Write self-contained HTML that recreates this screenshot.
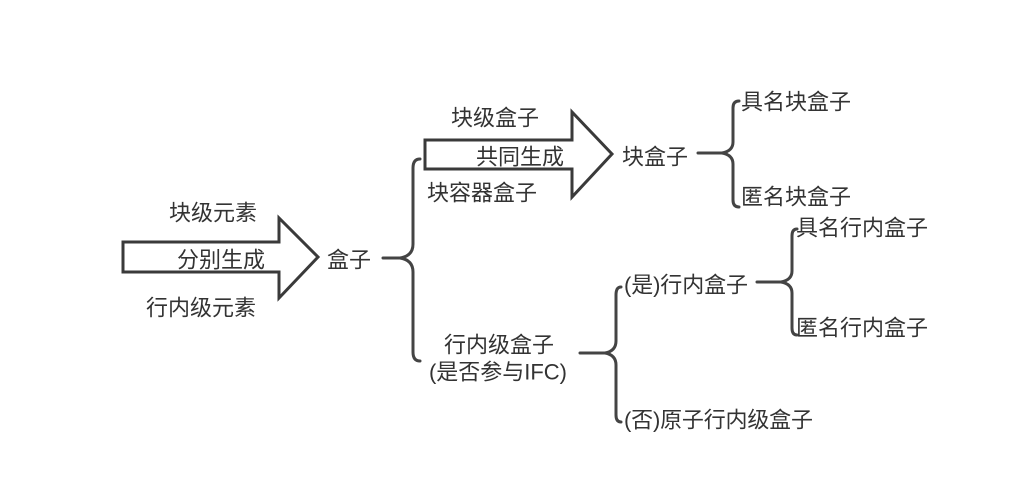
<!DOCTYPE html>
<html><head><meta charset="utf-8"><style>
html,body{margin:0;padding:0;background:#fff;}
svg{display:block;}
text{font-family:"Liberation Sans","Noto Sans CJK SC",sans-serif;font-size:22px;fill:#333;dominant-baseline:central;}
</style></head><body>
<svg width="1024" height="494" viewBox="0 0 1024 494" xmlns="http://www.w3.org/2000/svg">
<rect width="1024" height="494" fill="#fff"/>
<g fill="none" stroke="#3a3a3a" stroke-width="3" stroke-linejoin="miter">
<polygon points="123,242 279,242 279,218 318,257 279,298 279,272 123,272"/>
<polygon points="425,140 572,140 572,112 612,154 572,197 572,169 425,169"/>
</g>
<g fill="none" stroke="#444" stroke-width="3" stroke-linecap="round">
<path d="M383 258 L400 258 Q413 256 413 244 L413 168 Q413 159 420 159"/>
<path d="M400 258 Q413 260 413 272 L413 352 Q413 361 420 361"/>
<path d="M698 153 L722 153 Q733 151 733 142 L733 108 Q733 101 739 101"/>
<path d="M722 153 Q733 155 733 164 L733 200 Q733 207 739 207"/>
<path d="M580 353 L605 353 Q616 351 616 341 L616 295 Q616 287 621 287"/>
<path d="M605 353 Q616 355 616 365 L616 415 Q616 422 621 422"/>
<path d="M757 282 L781 282 Q792 280 792 271 L792 236 Q792 229 797 229"/>
<path d="M781 282 Q792 284 792 293 L792 328 Q792 335 797 335"/>
</g>
<text x="169" y="213">块级元素</text>
<text x="177" y="260">分别生成</text>
<text x="146" y="308">行内级元素</text>
<text x="327" y="260">盒子</text>
<text x="451" y="118">块级盒子</text>
<text x="476" y="157">共同生成</text>
<text x="427" y="193">块容器盒子</text>
<text x="622" y="157">块盒子</text>
<text x="741" y="102">具名块盒子</text>
<text x="741" y="197">匿名块盒子</text>
<text x="444" y="345">行内级盒子</text>
<text x="429" y="372" textLength="138">(是否参与IFC)</text>
<text x="624" y="285" textLength="124">(是)行内盒子</text>
<text x="796" y="228">具名行内盒子</text>
<text x="796" y="328">匿名行内盒子</text>
<text x="624" y="420" textLength="189">(否)原子行内级盒子</text>
</svg>
</body></html>
